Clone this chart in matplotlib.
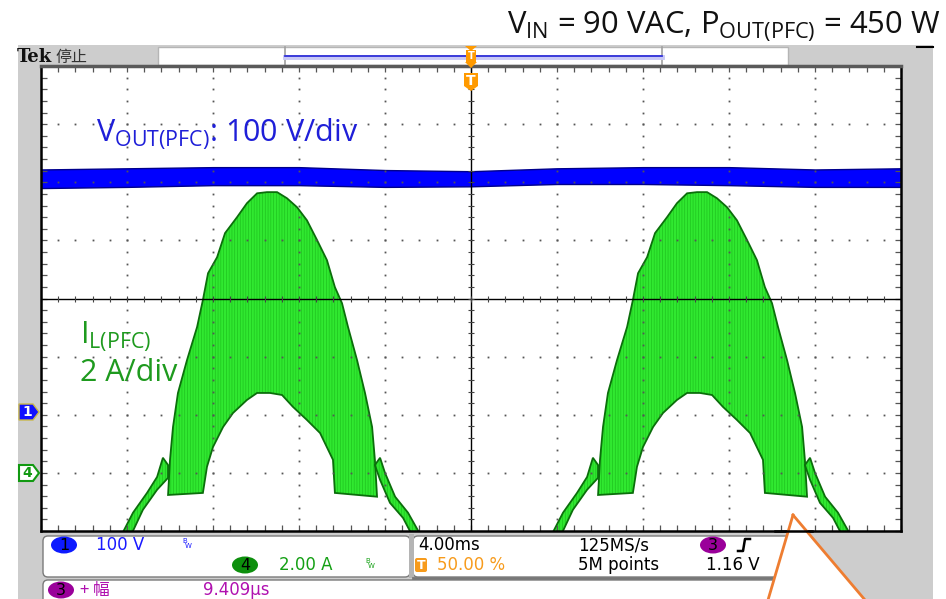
import numpy as np
import matplotlib
matplotlib.use("Agg")
import matplotlib.pyplot as plt
from matplotlib.patches import Polygon, FancyBboxPatch, Ellipse, Rectangle

# ---------------- data ----------------
time_div_ms = 4.0          # 4.00 ms/div
current_div_A = 2.0        # ch4 2.00 A/div
voltage_div_V = 100.0      # ch1 100 V/div
ch4_offset_div = -3        # ch4 ground marker, divisions from centre
ch1_offset_div = -2        # ch1 ground marker

# VOUT(PFC) band (upper / lower edge of the trace)
vout_t_ms = [-20, -16, -12, -8, -4, 0, 4, 8, 12, 16, 20]
vout_upper_V = [422, 424, 426, 426, 421, 419, 424, 426, 426, 422, 424]
vout_lower_V = [390, 392, 395, 395, 392, 393, 397, 397, 395, 392, 392]

# IL(PFC) switching envelope, one line cycle; repeated for each hump
hump_offsets_ms = [0.0, 20.0]
il_outer_t = [-14.09, -14.00, -13.86, -13.63, -13.21, -12.74, -12.47, -12.23, -11.81,
              -11.44, -10.88, -10.42, -9.95, -9.49, -9.02, -8.56, -8.09, -7.63, -7.16,
              -6.70, -6.33, -6.00, -5.72, -5.30, -4.93, -4.60, -4.47, -4.37]
il_outer_A = [-0.76, 0.45, 1.58, 2.75, 3.88, 5.02, 5.95, 6.87, 7.42,
              8.25, 8.80, 9.28, 9.62, 9.66, 9.66, 9.45, 9.14, 8.69, 8.01,
              7.32, 6.39, 5.84, 5.02, 3.88, 2.75, 1.58, 0.45, -0.82]
il_inner_t = [-6.33, -6.42, -7.02, -7.63, -8.28, -8.79, -9.35, -9.95, -10.42,
              -11.07, -11.53, -12.00, -12.28, -12.47]
il_inner_A = [-0.69, 0.45, 1.37, 1.82, 2.27, 2.68, 2.75, 2.75, 2.51,
              2.06, 1.58, 0.89, 0.21, -0.69]
tail_left_t = [-16.30, -15.72, -15.07, -14.60, -14.33, -14.09, -14.09, -14.60, -15.26, -15.85]
tail_left_A = [-2.20, -1.37, -0.69, -0.14, 0.52, 0.27, -0.17, -0.58, -1.27, -2.20]
tail_right_t = [-4.47, -4.23, -4.00, -3.53, -2.93, -2.30, -2.70, -3.16, -3.77, -4.23]
tail_right_A = [0.27, 0.52, 0.00, -0.82, -1.37, -2.20, -2.20, -1.55, -1.03, -0.24]

# ---------------- figure ----------------
plt.rcParams["mathtext.fontset"] = "custom"
plt.rcParams["mathtext.rm"] = "Open Sans"
plt.rcParams["mathtext.it"] = "Open Sans:italic"
plt.rcParams["mathtext.bf"] = "Open Sans:bold"
plt.rcParams["hatch.linewidth"] = 0.45

W, H = 946, 599
fig = plt.figure(figsize=(W / 100, H / 100), dpi=100)
fig.patch.set_facecolor("white")

def px_axes(z):
    a = fig.add_axes([0, 0, 1, 1], zorder=z)
    a.set_xlim(0, W)
    a.set_ylim(H, 0)
    a.axis("off")
    a.patch.set_alpha(0)
    return a

L, R, T, B = 41, 901, 66, 531

bg = px_axes(-5)
bg.add_patch(Rectangle((18, 45), 915, 560, fc="#cdcdcd", ec="none"))
bg.add_patch(Rectangle((L, T), R - L, B - T, fc="white", ec="none"))

# top bar
bg.add_patch(Rectangle((158, 47), 630, 18, fc="white", ec="#b5b5b5", lw=1))
bg.plot([285, 285], [47, 65], color="#a0a0a0", lw=1.2)
bg.plot([662, 662], [47, 65], color="#a0a0a0", lw=1.2)
bg.plot([285, 662], [57, 57], color="#c8c8f5", lw=3.5)
bg.plot([285, 662], [56, 56], color="#3030d8", lw=1.3)
bg.plot([917, 933], [47, 47], color="black", lw=1.5)
bg.text(17, 57, "Tek", fontsize=13, fontweight="bold", family="DejaVu Serif",
        va="center", ha="left", color="#111111")
bg.text(55, 57, "停止", fontsize=11.5, family=["Noto Sans CJK SC", "DejaVu Sans"],
        va="center", ha="left", color="#333333")

# bottom panels
for (x0, y0, w, h) in [(43, 536, 367, 41), (413, 536, 390, 41), (43, 580, 735, 40)]:
    bg.add_patch(FancyBboxPatch((x0, y0), w, h, boxstyle="round,pad=0,rounding_size=5",
                                fc="white", ec="#7a7a7a", lw=1.0))
bg.add_patch(Rectangle((409, 534), 5, 44, fc="#b4b4b4", ec="none"))
bg.plot([413, 790], [577.5, 577.5], color="#777777", lw=2)

tek = "DejaVu Sans"
fs = 12
blue_t, green_t, purple_t, orange_t = "#1a1aff", "#14a014", "#b011b0", "#f79b1c"

def badge(x, y, label, fc, tc="black"):
    bg.add_patch(Ellipse((x, y), 26, 17, fc=fc, ec="none"))
    bg.text(x, y + 0.5, label, fontsize=11.5, family=tek, ha="center", va="center", color=tc)

badge(64, 545, "1", "#0d1aff")
bg.text(96, 545, "100 V", fontsize=fs, family=tek, color=blue_t, va="center")
bg.text(182, 541, "B", fontsize=5, family=tek, color=blue_t, va="center")
bg.text(185, 546, "W", fontsize=5, family=tek, color=blue_t, va="center")
badge(245, 565, "4", "#0d8f0d")
bg.text(279, 565, "2.00 A", fontsize=fs, family=tek, color=green_t, va="center")
bg.text(365, 561, "B", fontsize=5, family=tek, color=green_t, va="center")
bg.text(368, 566, "W", fontsize=5, family=tek, color=green_t, va="center")
bg.text(418, 545, "4.00ms", fontsize=fs, family=tek, color="black", va="center")
bg.text(578, 545, "125MS/s", fontsize=fs, family=tek, color="black", va="center")
badge(713, 545, "3", "#9a009a")
bg.plot([738, 743, 745, 750], [551, 551, 539, 539], color="black", lw=1.8)
bg.add_patch(FancyBboxPatch((415, 558), 12, 14, boxstyle="round,pad=0,rounding_size=2",
                            fc=orange_t, ec="none"))
bg.text(421, 565.5, "T", fontsize=9, family=tek, color="white", ha="center", va="center",
        fontweight="bold")
bg.text(437, 565, "50.00 %", fontsize=fs, family=tek, color=orange_t, va="center")
bg.text(578, 565, "5M points", fontsize=fs, family=tek, color="black", va="center")
bg.text(706, 565, "1.16 V", fontsize=fs, family=tek, color="black", va="center")
badge(61, 590, "3", "#9a009a")
bg.text(80, 590, "+ 幅", fontsize=fs, family=["Noto Sans CJK SC", "DejaVu Sans"],
        color=purple_t, va="center")
bg.text(203, 590, "9.409μs", fontsize=fs, family=tek, color=purple_t, va="center")

# ---------------- scope graticule and traces ----------------
pos = [L / W, 1 - B / H, (R - L) / W, (B - T) / H]

ax = fig.add_axes(pos, zorder=0)
ax.patch.set_alpha(0)
ax.set_xlim(-5 * time_div_ms, 5 * time_div_ms)
ax.set_ylim((-4 - ch4_offset_div) * current_div_A, (4 - ch4_offset_div) * current_div_A)
ax.axis("off")

fill_c, hatch_c, edge_c = "#30e830", "#1cbf1c", "#0b6e0b"
for off in hump_offsets_ms:
    xs = np.concatenate([np.array(il_outer_t) + off, np.array(il_inner_t) + off])
    ys = np.concatenate([il_outer_A, il_inner_A])
    for tx, ty in [(xs, ys),
                   (np.array(tail_left_t) + off, tail_left_A),
                   (np.array(tail_right_t) + off, tail_right_A)]:
        ax.fill(tx, ty, facecolor=fill_c, edgecolor=hatch_c, hatch="||||||", lw=0)
        ax.fill(tx, ty, facecolor="none", edgecolor=edge_c, lw=1.3)

ax2 = fig.add_axes(pos, zorder=1)
ax2.set_xlim(-5 * time_div_ms, 5 * time_div_ms)
ax2.set_ylim((-4 - ch1_offset_div) * voltage_div_V, (4 - ch1_offset_div) * voltage_div_V)
ax2.axis("off")
ax2.patch.set_alpha(0)
ax2.fill_between(vout_t_ms, vout_lower_V, vout_upper_V, facecolor="#0000ff",
                 edgecolor="#00008c", lw=1.0)

# graticule overlay (division units)
g = fig.add_axes(pos, zorder=2)
g.patch.set_alpha(0)
g.set_xlim(-5, 5)
g.set_ylim(-4, 4)
dot_x, dot_y = [], []
for gx in range(-4, 5):
    if gx == 0:
        continue
    yy = np.arange(-4, 4.001, 0.2)
    dot_x += [gx] * len(yy)
    dot_y += list(yy)
for gy in range(-3, 4):
    if gy == 0:
        continue
    xx = np.arange(-5, 5.001, 0.2)
    dot_x += list(xx)
    dot_y += [gy] * len(xx)
g.plot(dot_x, dot_y, ls="none", marker="s", ms=1.3, mew=0, color="#555555")
g.axhline(0, color="black", lw=1.0)
g.axvline(0, color="black", lw=1.0)
cx = np.arange(-5, 5.001, 0.2)
cy = np.arange(-4, 4.001, 0.2)
g.plot(cx, np.zeros_like(cx), ls="none", marker="|", ms=5, mew=0.8, color="#444444")
g.plot(np.zeros_like(cy), cy, ls="none", marker="_", ms=5, mew=0.8, color="#444444")
g.set_xticks(np.arange(-5, 5.01, 1))
g.set_yticks(np.arange(-4, 4.01, 1))
g.set_xticks(np.arange(-5, 5.01, 0.2), minor=True)
g.set_yticks(np.arange(-4, 4.01, 0.2), minor=True)
g.tick_params(which="both", direction="in", length=4, width=0.9, color="#555555",
              top=True, right=True, labelbottom=False, labelleft=False)
for s in ["left", "bottom", "right"]:
    g.spines[s].set_color("black")
    g.spines[s].set_linewidth(1.8)
g.spines["top"].set_color("#5a5a5a")
g.spines["top"].set_linewidth(2.5)

# ---------------- foreground annotations ----------------
fg = px_axes(5)
orange = "#ff9a00"
# trigger markers
fg.add_patch(Rectangle((466, 50), 10, 12, fc=orange, ec="none"))
fg.add_patch(Polygon([(465, 46), (477, 46), (471, 51)], fc=orange, ec="none"))
fg.add_patch(Polygon([(465, 62), (477, 62), (471, 68)], fc=orange, ec="none"))
fg.text(471, 56, "T", fontsize=7, family=tek, color="white", ha="center", va="center",
        fontweight="bold")
fg.add_patch(Polygon([(464, 73), (478, 73), (478, 86), (471, 91), (464, 86)], fc=orange, ec="none"))
fg.text(471, 81, "T", fontsize=10, family=tek, color="white", ha="center", va="center",
        fontweight="bold")

# channel ground markers
fg.add_patch(Polygon([(19, 404), (33, 404), (39, 412), (33, 420), (19, 420)],
                     fc="#1010ff", ec="#c9b84a", lw=1.0))
fg.text(27, 412, "1", fontsize=10, family=tek, color="white", ha="center", va="center",
        fontweight="bold")
fg.add_patch(Polygon([(19, 465), (33, 465), (39, 473), (33, 481), (19, 481)],
                     fc="white", ec="#119911", lw=1.5))
fg.text(27, 473, "4", fontsize=10, family=tek, color="#119911", ha="center", va="center",
        fontweight="bold")

ann = "Open Sans"
fg.text(940, 33, r"$\mathrm{V_{IN}}$ = 90 VAC, $\mathrm{P_{OUT(PFC)}}$ = 450 W",
        fontsize=22.3, family=ann, ha="right", va="baseline", color="#111111")
fg.text(96, 141, r"$\mathrm{V_{OUT(PFC)}}$: 100 V/div", fontsize=22, family=ann,
        ha="left", va="baseline", color="#1f1fd8")
fg.text(80, 343, r"$\mathrm{I_{L(PFC)}}$", fontsize=22, family=ann,
        ha="left", va="baseline", color="#1e9a1e")
fg.text(80, 381, "2 A/div", fontsize=22, family=ann,
        ha="left", va="baseline", color="#1e9a1e")

# callout triangle
fg.add_patch(Polygon([(793, 515), (768, 600), (865, 600)], fc="white", ec="none"))
fg.plot([793, 768], [515, 600], color="#ee7d31", lw=2)
fg.plot([793, 865], [515, 600], color="#ee7d31", lw=2)
fg.plot([775, 812], [531, 531], color="black", lw=1.8)

fig.savefig("out.png", dpi=100, facecolor="white")
